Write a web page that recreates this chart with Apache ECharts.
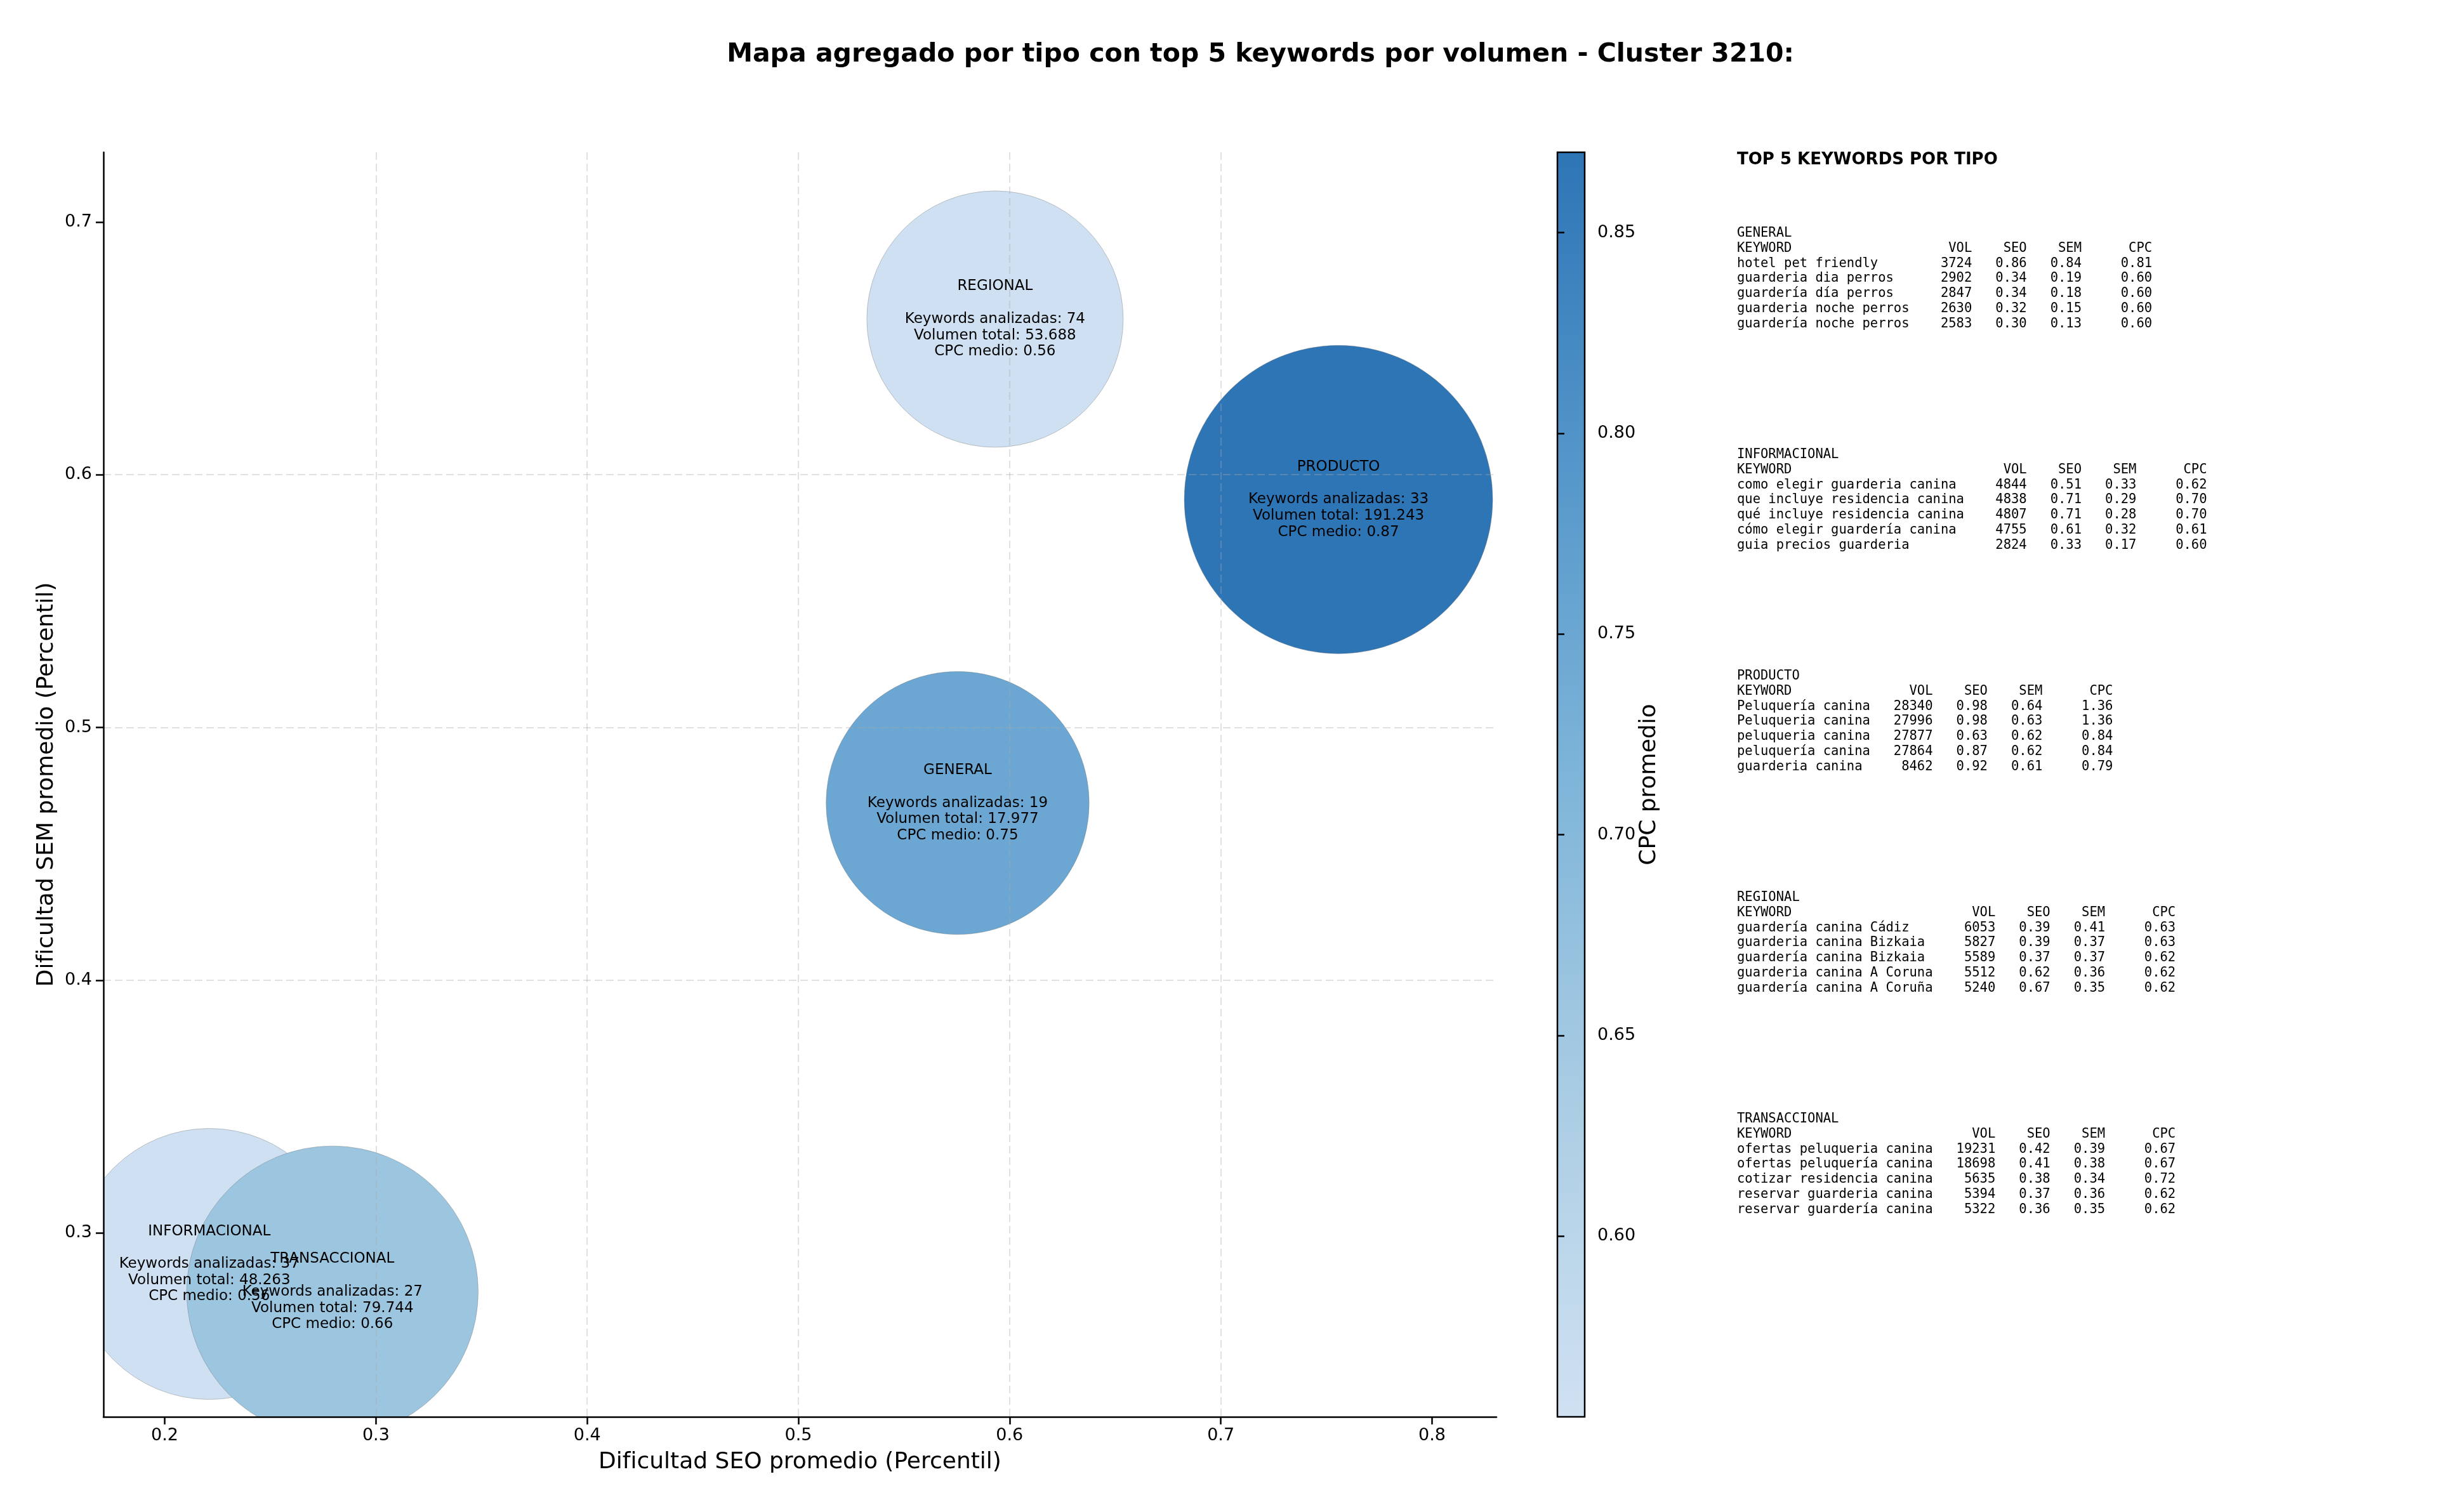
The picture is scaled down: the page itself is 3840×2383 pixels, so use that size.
<!DOCTYPE html>
<html lang="es">
<head>
<meta charset="UTF-8">
<title>Mapa agregado por tipo - Cluster 3210</title>
<style>
  html, body { margin: 0; padding: 0; background: #fff; }
  #chart { width: 3840px; height: 2383px; }
</style>
<script src="https://cdn.jsdelivr.net/npm/echarts@6/dist/echarts.min.js"></script>
</head>
<body>
<div id="chart"></div>
<script>
// aggregated values per type
const types = ['GENERAL', 'INFORMACIONAL', 'PRODUCTO', 'REGIONAL', 'TRANSACCIONAL'];
const seoAvg = [0.5754, 0.2211, 0.7557, 0.5931, 0.2794];
const semAvg = [0.4701, 0.2877, 0.5902, 0.6616, 0.2767];
const keywordCount = [19, 37, 33, 74, 27];
const totalVolume = [17977, 48263, 191243, 53688, 79744];
const cpcAvg = [0.75, 0.56, 0.87, 0.56, 0.66];

// axis ticks
const xTicks = [0.2, 0.3, 0.4, 0.5, 0.6, 0.7, 0.8];
const yTicks = [0.3, 0.4, 0.5, 0.6, 0.7];
const cbTicks = [0.60, 0.65, 0.70, 0.75, 0.80, 0.85];
const cpcRange = [0.555, 0.87];

// top 5 keywords: keyword, vol, seo, sem, cpc
const kwGeneral = [
  ['hotel pet friendly', 3724, 0.86, 0.84, 0.81],
  ['guarderia dia perros', 2902, 0.34, 0.19, 0.60],
  ['guardería día perros', 2847, 0.34, 0.18, 0.60],
  ['guarderia noche perros', 2630, 0.32, 0.15, 0.60],
  ['guardería noche perros', 2583, 0.30, 0.13, 0.60]
];
const kwInformacional = [
  ['como elegir guarderia canina', 4844, 0.51, 0.33, 0.62],
  ['que incluye residencia canina', 4838, 0.71, 0.29, 0.70],
  ['qué incluye residencia canina', 4807, 0.71, 0.28, 0.70],
  ['cómo elegir guardería canina', 4755, 0.61, 0.32, 0.61],
  ['guia precios guarderia', 2824, 0.33, 0.17, 0.60]
];
const kwProducto = [
  ['Peluquería canina', 28340, 0.98, 0.64, 1.36],
  ['Peluqueria canina', 27996, 0.98, 0.63, 1.36],
  ['peluqueria canina', 27877, 0.63, 0.62, 0.84],
  ['peluquería canina', 27864, 0.87, 0.62, 0.84],
  ['guarderia canina', 8462, 0.92, 0.61, 0.79]
];
const kwRegional = [
  ['guardería canina Cádiz', 6053, 0.39, 0.41, 0.63],
  ['guarderia canina Bizkaia', 5827, 0.39, 0.37, 0.63],
  ['guardería canina Bizkaia', 5589, 0.37, 0.37, 0.62],
  ['guarderia canina A Coruna', 5512, 0.62, 0.36, 0.62],
  ['guardería canina A Coruña', 5240, 0.67, 0.35, 0.62]
];
const kwTransaccional = [
  ['ofertas peluqueria canina', 19231, 0.42, 0.39, 0.67],
  ['ofertas peluquería canina', 18698, 0.41, 0.38, 0.67],
  ['cotizar residencia canina', 5635, 0.38, 0.34, 0.72],
  ['reservar guarderia canina', 5394, 0.37, 0.36, 0.62],
  ['reservar guardería canina', 5322, 0.36, 0.35, 0.62]
];
const kwBlocks = [kwGeneral, kwInformacional, kwProducto, kwRegional, kwTransaccional];

const cmapStops = ['#d0e1f2', '#aacde4', '#7fb5d9', '#5597ca', '#2e75b6'];
const FONT = 'DejaVu Sans';
const MONO = 'DejaVu Sans Mono';

const chart = echarts.init(document.getElementById('chart'));

const fmtVol = v => String(v).replace(/\B(?=(\d{3})+(?!\d))/g, '.');
const logAvg = types.map((t, i) => Math.log(totalVolume[i] / keywordCount[i]));
const bubbleData = types.map((t, i) => [seoAvg[i], semAvg[i], cpcAvg[i], logAvg[i]]);

// monospace table text for each type
function blockText(name, rows) {
  const w = Math.max(...rows.map(r => r[0].length));
  const lines = [name,
    'KEYWORD'.padEnd(w) + 'VOL'.padStart(8) + 'SEO'.padStart(7) + 'SEM'.padStart(7) + 'CPC'.padStart(9)];
  rows.forEach(r => {
    lines.push(r[0].padEnd(w) + String(r[1]).padStart(8) + r[2].toFixed(2).padStart(7) +
      r[3].toFixed(2).padStart(7) + r[4].toFixed(2).padStart(9));
  });
  return lines.join('\n');
}

const lineH = 23.7;
const panelGraphics = [{
  type: 'text', x: 2737, y: 252,
  style: { text: 'TOP 5 KEYWORDS POR TIPO', fontFamily: FONT, fontSize: 26, fontWeight: 'bold',
    fill: '#000', verticalAlign: 'middle' }
}];
types.forEach((t, i) => {
  panelGraphics.push({
    type: 'text', x: 2737, y: 368 + i * 349 - lineH / 2,
    style: { text: blockText(t, kwBlocks[i]), fontFamily: MONO, fontSize: 20.5, lineHeight: lineH,
      fill: '#000', verticalAlign: 'top' }
  });
});

const gridLine = { show: true, showMinLine: false, showMaxLine: false,
  lineStyle: { color: 'rgba(170,170,170,0.35)', type: [12, 6], width: 2 } };

const option = {
  backgroundColor: '#fff',
  animation: false,
  title: {
    text: 'Mapa agregado por tipo con top 5 keywords por volumen - Cluster 3210:',
    left: 1986, top: 66, textAlign: 'center', padding: 0,
    textStyle: { fontFamily: FONT, fontSize: 41, fontWeight: 'bold', color: '#000' }
  },
  grid: [
    { left: 163, top: 240, width: 2195, height: 1993, containLabel: false },
    { left: 2454, top: 240, width: 43, height: 1993, show: true, borderColor: '#000', borderWidth: 2.5,
      backgroundColor: new echarts.graphic.LinearGradient(0, 1, 0, 0,
        cmapStops.map((c, i) => ({ offset: i / (cmapStops.length - 1), color: c }))) }
  ],
  xAxis: [{
    type: 'value', gridIndex: 0, min: 0.171, max: 0.8305, z: 3,
    name: 'Dificultad SEO promedio (Percentil)', nameLocation: 'middle', nameGap: 54,
    nameTextStyle: { fontFamily: FONT, fontSize: 36, color: '#000' },
    axisLine: { show: true, onZero: false, lineStyle: { color: '#000', width: 2.5 } },
    axisTick: { show: true, length: 12, customValues: xTicks, lineStyle: { color: '#000', width: 2.5 } },
    axisLabel: { customValues: xTicks, margin: 16, fontFamily: FONT, fontSize: 27, color: '#000',
      formatter: v => String(Math.round(v * 10) / 10) },
    splitLine: gridLine
  }, {
    type: 'value', gridIndex: 1, min: 0, max: 1, show: false
  }],
  yAxis: [{
    type: 'value', gridIndex: 0, min: 0.2272, max: 0.7276, z: 3,
    name: 'Dificultad SEM promedio (Percentil)', nameLocation: 'middle', nameGap: 71,
    nameTextStyle: { fontFamily: FONT, fontSize: 36, color: '#000' },
    axisLine: { show: true, onZero: false, lineStyle: { color: '#000', width: 2.5 } },
    axisTick: { show: true, length: 12, customValues: yTicks, lineStyle: { color: '#000', width: 2.5 } },
    axisLabel: { customValues: yTicks, margin: 18, fontFamily: FONT, fontSize: 27, color: '#000',
      formatter: v => String(Math.round(v * 10) / 10) },
    splitLine: gridLine
  }, {
    type: 'value', gridIndex: 1, position: 'right', min: cpcRange[0], max: cpcRange[1],
    name: 'CPC promedio', nameLocation: 'middle', nameGap: 82, nameRotate: 90,
    nameTextStyle: { fontFamily: FONT, fontSize: 36, color: '#000' },
    axisLine: { show: false },
    axisTick: { show: true, length: 11, customValues: cbTicks, lineStyle: { color: '#000', width: 2.5 } },
    axisLabel: { customValues: cbTicks, margin: 20, fontFamily: FONT, fontSize: 27, color: '#000',
      formatter: v => v.toFixed(2) },
    splitLine: { show: false }
  }],
  visualMap: [{
    type: 'continuous', show: false, seriesIndex: 0, dimension: 2,
    min: cpcRange[0], max: cpcRange[1], inRange: { color: cmapStops }
  }, {
    type: 'continuous', show: false, seriesIndex: 0, dimension: 3,
    min: Math.min(...logAvg), max: Math.max(...logAvg), inRange: { symbolSize: [404, 486] }
  }],
  series: [{
    // bubbles, clipped to the plot area
    type: 'custom',
    coordinateSystem: 'cartesian2d',
    xAxisIndex: 0, yAxisIndex: 0,
    clip: true,
    silent: true,
    z: 2,
    data: bubbleData,
    encode: { x: 0, y: 1 },
    renderItem: (params, api) => {
      const c = api.coord([api.value(0), api.value(1)]);
      const cs = params.coordSys;
      let s = api.visual('symbolSize');
      if (Array.isArray(s)) s = s[0];
      return {
        type: 'group',
        clipPath: { type: 'rect', shape: { x: cs.x, y: cs.y, width: cs.width, height: cs.height } },
        children: [{
          type: 'circle',
          shape: { cx: c[0], cy: c[1], r: (s || 440) / 2 },
          style: { fill: api.visual('color'), stroke: 'rgba(120,120,120,0.4)', lineWidth: 1 }
        }]
      };
    }
  }, {
    // text inside each bubble
    type: 'custom',
    coordinateSystem: 'cartesian2d',
    xAxisIndex: 0, yAxisIndex: 0,
    clip: false,
    silent: true,
    z: 4,
    data: bubbleData,
    encode: { x: 0, y: 1 },
    renderItem: (params, api) => {
      const i = params.dataIndex;
      const c = api.coord([api.value(0), api.value(1)]);
      return {
        type: 'text',
        x: c[0], y: c[1],
        style: {
          text: types[i] + '\n\nKeywords analizadas: ' + keywordCount[i] +
            '\nVolumen total: ' + fmtVol(totalVolume[i]) + '\nCPC medio: ' + cpcAvg[i].toFixed(2),
          align: 'center', verticalAlign: 'middle',
          fontFamily: FONT, fontSize: 23, lineHeight: 25.7, fill: '#000'
        }
      };
    }
  }],
  graphic: panelGraphics
};

chart.setOption(option);
</script>
</body>
</html>
